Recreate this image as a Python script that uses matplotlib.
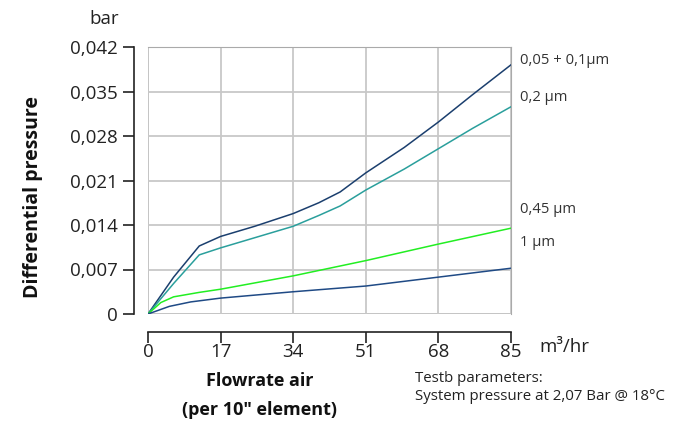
import matplotlib
matplotlib.use('Agg')
import matplotlib.pyplot as plt

plt.rcParams['font.family'] = ['Open Sans', 'DejaVu Sans']

# === DATA ===
FLOW = [0, 17, 34, 51, 68, 85]
Y_TICKS = [0, 0.007, 0.014, 0.021, 0.028, 0.035, 0.042]
Y_TICK_LABELS = ['0', '0,007', '0,014', '0,021', '0,028', '0,035', '0,042']

x_01 = [0, 6, 12, 17, 25, 34, 40, 45, 51, 60, 68, 76, 85]
y_01 = [0, 0.0058, 0.0107, 0.0122, 0.0138, 0.0158, 0.0175, 0.0192, 0.0222, 0.0262, 0.0302, 0.0345, 0.0392]

x_02 = [0, 6, 12, 17, 25, 34, 40, 45, 51, 60, 68, 76, 85]
y_02 = [0, 0.0048, 0.0093, 0.0104, 0.0120, 0.0138, 0.0155, 0.0170, 0.0195, 0.0228, 0.0260, 0.0292, 0.0326]

x_045 = [0, 3, 6, 12, 17, 34, 51, 68, 85]
y_045 = [0, 0.0018, 0.0027, 0.0034, 0.0039, 0.0060, 0.0084, 0.0110, 0.0135]

x_1 = [0, 5, 10, 17, 34, 51, 68, 85]
y_1 = [0, 0.0012, 0.0019, 0.0025, 0.0035, 0.0044, 0.0058, 0.0072]

SERIES_LABELS = ['0,05 + 0,1µm', '0,2 µm', '0,45 µm', '1 µm']
LABEL_Y = [0.0398, 0.0340, 0.0164, 0.0112]
COLORS = ['#1b3f6e', '#2a9f9c', '#22ee22', '#1f4a85']

fig = plt.figure(figsize=(6.83, 4.23), dpi=100)
ax = fig.add_axes([148 / 683, 1 - 314 / 423, 363 / 683, 267 / 423])

ax.plot(x_01, y_01, color=COLORS[0], lw=1.1)
ax.plot(x_02, y_02, color=COLORS[1], lw=1.1)
ax.plot(x_045, y_045, color=COLORS[2], lw=1.1)
ax.plot(x_1, y_1, color=COLORS[3], lw=1.1)

ax.set_xlim(0, 85)
ax.set_ylim(0, 0.042)
ax.set_xticks(FLOW)
ax.set_xticklabels([str(v) for v in FLOW])
ax.set_yticks(Y_TICKS)
ax.set_yticklabels(Y_TICK_LABELS)
ax.grid(color='#c8c8c8', lw=1.3)
ax.set_axisbelow(True)

ax.spines['top'].set_color('#aaaaaa')
ax.spines['right'].set_color('#aaaaaa')
ax.spines['left'].set_position(('outward', 10))
ax.spines['bottom'].set_position(('outward', 13))
for s in ['left', 'bottom']:
    ax.spines[s].set_color('#222222')
    ax.spines[s].set_linewidth(1.2)
ax.tick_params(axis='both', direction='out', length=8, width=1.2, color='#222222',
               labelsize=13.5, labelcolor='#222222')
ax.tick_params(axis='y', pad=4)
ax.tick_params(axis='x', pad=0)

# gray frame at the data edges
ax.axvline(0, color='#aaaaaa', lw=1.3, zorder=0.5)
ax.axhline(0, color='#aaaaaa', lw=1.3, zorder=0.5)

for lab, yy in zip(SERIES_LABELS, LABEL_Y):
    ax.text(87, yy, lab, fontsize=10.6, color='#333333', va='center', ha='left', clip_on=False)

fig.text(104 / 683, 1 - 19 / 423, 'bar', fontsize=13.5, color='#222222', ha='center', va='center')
fig.text(564 / 683, 1 - 347 / 423, 'm³/hr', fontsize=13.5, color='#222222', ha='center', va='center')
fig.text(33 / 683, 1 - 197 / 423, 'Differential pressure', fontsize=14, fontweight='bold',
         rotation=90, ha='center', va='center', color='#111111')
fig.text(260 / 683, 1 - 381 / 423, 'Flowrate air', fontsize=13, fontweight='bold',
         ha='center', va='center', color='#111111')
fig.text(260 / 683, 1 - 410 / 423, '(per 10" element)', fontsize=13, fontweight='bold',
         ha='center', va='center', color='#111111')
fig.text(415 / 683, 1 - 378 / 423, 'Testb parameters:', fontsize=10.8, ha='left', va='center', color='#222222')
fig.text(415 / 683, 1 - 396 / 423, 'System pressure at 2,07 Bar @ 18°C', fontsize=10.8, ha='left',
         va='center', color='#222222')

fig.savefig('out.png', dpi=100)
